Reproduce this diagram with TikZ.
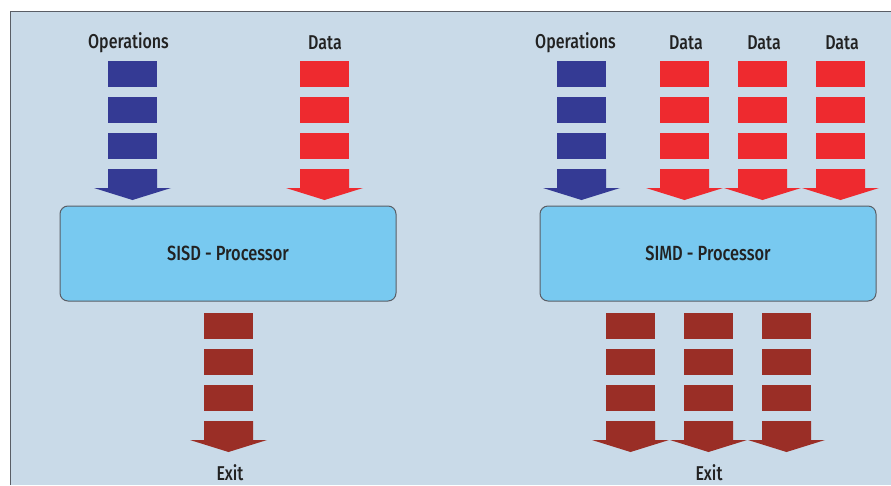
\documentclass[tikz,border=0pt]{standalone}
\usepackage{fontspec}
\usepackage{graphicx}
\setmainfont{Fira Sans Medium}
\definecolor{bgblue}{HTML}{C9DAE8}
\definecolor{opblue}{HTML}{343A94}
\definecolor{datared}{HTML}{EE2A2F}
\definecolor{exitred}{HTML}{9A2E26}
\definecolor{procblue}{HTML}{78C9F0}
\definecolor{frame}{HTML}{5A5E66}
\definecolor{txt}{HTML}{222222}
\newcommand\condtext[1]{\scalebox{0.8}[1]{#1}}
% \arrowstack{cx}{ytop}{colour}
\newcommand\arrowstack[3]{%
  \fill[#3] (#1-24.5,#2) rectangle (#1+24.5,#2+26);
  \fill[#3] (#1-24.5,#2+36) rectangle (#1+24.5,#2+62);
  \fill[#3] (#1-24.5,#2+72) rectangle (#1+24.5,#2+98);
  \fill[#3] (#1-24.5,#2+108) -- (#1+24.5,#2+108) -- (#1+24.5,#2+127)
     -- (#1+38.5,#2+127) -- (#1,#2+139) -- (#1-38.5,#2+127) -- (#1-24.5,#2+127) -- cycle;
}
\begin{document}
\begin{tikzpicture}[x=1pt,y=-1pt,
  lbl/.style={font=\fontsize{20}{24}\selectfont, text=txt, inner sep=0pt},
  proc/.style={draw=frame, line width=1pt, fill=procblue, rounded corners=8pt},
  proctext/.style={font=\fontsize{20.5}{24}\selectfont, text=txt, inner sep=0pt}]
\useasboundingbox (0,0) rectangle (891,485);
\fill[white] (0,0) rectangle (891,485);
\fill[bgblue] (10,11) rectangle (891,485);
\draw[frame, line width=1.5pt] (10.5,485) -- (10.5,11.5) -- (891,11.5);

% SISD
\node[lbl] (opL) at (128.5,43) {\condtext{Operations}};
\node[lbl] (dataL) at (325,43) {\condtext{Data}};
\arrowstack{132.5}{61}{opblue}
\arrowstack{324.5}{61}{datared}
\path[proc] (60,206) rectangle (396,301);
\node[proctext] (sisd) at (228,253) {\condtext{SISD - Processor}};
\arrowstack{228.5}{313}{exitred}
\node[lbl] (exitL) at (230,473) {\condtext{Exit}};

% SIMD
\node[lbl] (opR) at (575.5,43) {\condtext{Operations}};
\node[lbl] (dataR1) at (686,43) {\condtext{Data}};
\node[lbl] (dataR2) at (764,43) {\condtext{Data}};
\node[lbl] (dataR3) at (842,43) {\condtext{Data}};
\arrowstack{581.5}{61}{opblue}
\arrowstack{684.5}{61}{datared}
\arrowstack{762.5}{61}{datared}
\arrowstack{840.5}{61}{datared}
\path[proc] (540,206) rectangle (876,301);
\node[proctext] (simd) at (708,253) {\condtext{SIMD - Processor}};
\arrowstack{630.5}{313}{exitred}
\arrowstack{708.5}{313}{exitred}
\arrowstack{786.5}{313}{exitred}
\node[lbl] (exitR) at (709,473) {\condtext{Exit}};
\end{tikzpicture}
\end{document}
